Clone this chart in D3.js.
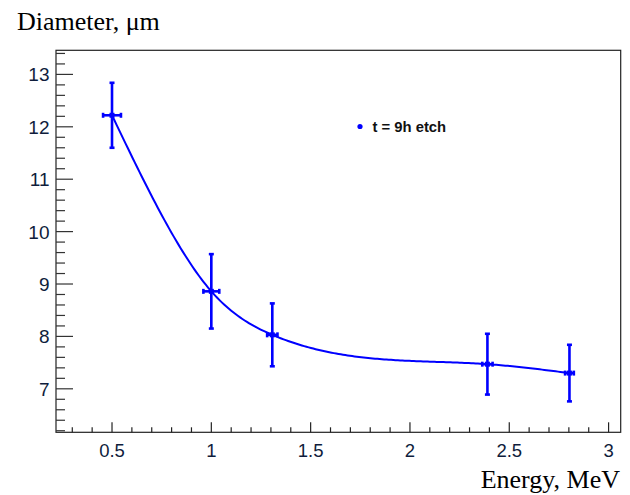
<!DOCTYPE html>
<html><head><meta charset="utf-8">
<script src="https://cdn.jsdelivr.net/npm/d3@7"></script>
<style>body{margin:0;background:#fff}svg{display:block}</style>
</head><body>
<script>
const energy = [0.5, 1.0, 1.307, 2.39, 2.803];
const diameter = [12.22, 8.86, 8.03, 7.47, 7.30];
const diamErr = [0.62, 0.71, 0.60, 0.58, 0.54];
const energyErr = [0.045, 0.04, 0.026, 0.026, 0.022];
const xTicks = [0.5, 1, 1.5, 2, 2.5, 3];
const yTicks = [7, 8, 9, 10, 11, 12, 13];
const legendLabel = "t = 9h etch";

const W = 630, H = 495;
const L = 56, R = 620.7, T = 50.3, B = 432.3;
const svg = d3.select("body").append("svg").attr("width", W).attr("height", H);
const x = d3.scaleLinear().domain([0.218, 3.061]).range([L, R]);
const y = d3.scaleLinear().domain([6.17, 13.46]).range([B, T]);

// frame
svg.append("rect").attr("x", L).attr("y", T).attr("width", R - L).attr("height", B - T)
  .attr("fill", "none").attr("stroke", "#222").attr("stroke-width", 1.2);

const labCol = "#0f1d3c";
// x ticks
const xMinor = d3.range(3, 31).map(d => d / 10).filter(d => d >= 0.218 && d <= 3.061);
svg.append("g").selectAll("line").data(xMinor).join("line")
  .attr("x1", d => x(d)).attr("x2", d => x(d)).attr("y1", B)
  .attr("y2", d => B - (Math.abs(d * 2 - Math.round(d * 2)) < 1e-6 ? 10 : 5))
  .attr("stroke", "#222").attr("stroke-width", 1.2);
svg.append("g").selectAll("text").data(xTicks).join("text")
  .attr("x", d => x(d)).attr("y", 456.5).attr("text-anchor", "middle")
  .attr("font-family", "Liberation Sans, Arial, sans-serif").attr("font-size", 18.5)
  .attr("fill", labCol).text(d => d3.format("~g")(d));

// y ticks
const yMinor = d3.range(31, 68).map(d => d / 5).filter(d => d >= 6.17 && d <= 13.46);
svg.append("g").selectAll("line").data(yMinor).join("line")
  .attr("y1", d => y(d)).attr("y2", d => y(d)).attr("x1", L)
  .attr("x2", d => L + (Math.abs(d - Math.round(d)) < 1e-6 ? 17 : 9))
  .attr("stroke", "#333").attr("stroke-width", 1.2);
svg.append("g").selectAll("text").data(yTicks).join("text")
  .attr("x", L - 6.5).attr("y", d => y(d) + 7).attr("text-anchor", "end")
  .attr("font-family", "Liberation Sans, Arial, sans-serif").attr("font-size", 19)
  .attr("fill", labCol).text(d => d);

// axis titles
svg.append("text").attr("x", 17).attr("y", 30)
  .attr("font-family", "Liberation Serif, Times New Roman, serif").attr("font-size", 26)
  .attr("fill", "#000").text("Diameter, μm");
svg.append("text").attr("x", 620).attr("y", 488).attr("text-anchor", "end")
  .attr("font-family", "Liberation Serif, Times New Roman, serif").attr("font-size", 26)
  .attr("fill", "#000").text("Energy, MeV");

// natural cubic spline through data (as in ROOT smooth curve)
function spline(xs, ys) {
  const n = xs.length, h = [], a = [], l = [1], mu = [0], z = [0], c = new Array(n).fill(0), b = [], d = [];
  for (let i = 0; i < n - 1; i++) h.push(xs[i + 1] - xs[i]);
  for (let i = 1; i < n - 1; i++) a[i] = 3 / h[i] * (ys[i + 1] - ys[i]) - 3 / h[i - 1] * (ys[i] - ys[i - 1]);
  for (let i = 1; i < n - 1; i++) {
    l[i] = 2 * (xs[i + 1] - xs[i - 1]) - h[i - 1] * mu[i - 1];
    mu[i] = h[i] / l[i];
    z[i] = (a[i] - h[i - 1] * z[i - 1]) / l[i];
  }
  for (let j = n - 2; j >= 0; j--) {
    c[j] = z[j] - mu[j] * c[j + 1];
    b[j] = (ys[j + 1] - ys[j]) / h[j] - h[j] * (c[j + 1] + 2 * c[j]) / 3;
    d[j] = (c[j + 1] - c[j]) / (3 * h[j]);
  }
  return t => {
    let i = 0;
    while (i < n - 2 && t > xs[i + 1]) i++;
    const dx = t - xs[i];
    return ys[i] + b[i] * dx + c[i] * dx * dx + d[i] * dx * dx * dx;
  };
}
const f = spline(energy, diameter);
const samples = d3.range(0, 201).map(k => energy[0] + (energy[energy.length - 1] - energy[0]) * k / 200);
svg.append("path").datum(samples)
  .attr("d", d3.line().x(d => x(d)).y(d => y(f(d))))
  .attr("fill", "none").attr("stroke", "#0000ff").attr("stroke-width", 2);

// error bars
const blue = "#0000ff";
const pts = energy.map((e, i) => ({e, d: diameter[i], de: diamErr[i], ee: energyErr[i]}));
const g = svg.append("g").attr("stroke", blue).attr("stroke-width", 2.6);
pts.forEach(p => {
  g.append("line").attr("x1", x(p.e)).attr("x2", x(p.e)).attr("y1", y(p.d - p.de)).attr("y2", y(p.d + p.de));
  g.append("line").attr("x1", x(p.e - p.ee)).attr("x2", x(p.e + p.ee)).attr("y1", y(p.d)).attr("y2", y(p.d));
  [p.d - p.de, p.d + p.de].forEach(v => g.append("line").attr("x1", x(p.e) - 2.5).attr("x2", x(p.e) + 2.5).attr("y1", y(v)).attr("y2", y(v)));
  [p.e - p.ee, p.e + p.ee].forEach(v => g.append("line").attr("x1", x(v)).attr("x2", x(v)).attr("y1", y(p.d) - 2.5).attr("y2", y(p.d) + 2.5));
  svg.append("rect").attr("x", x(p.e) - 2.5).attr("y", y(p.d) - 2.5).attr("width", 5).attr("height", 5).attr("fill", blue);
});

// legend
svg.append("circle").attr("cx", 360).attr("cy", 126.5).attr("r", 2.6).attr("fill", blue);
svg.append("text").attr("x", 372.5).attr("y", 132)
  .attr("font-family", "Liberation Sans, Arial, sans-serif").attr("font-size", 14.8).attr("font-weight", "bold")
  .attr("fill", "#111").text(legendLabel);
</script>
</body></html>
